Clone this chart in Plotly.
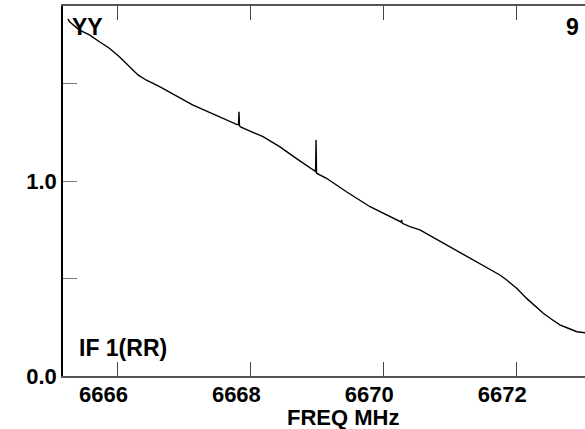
import plotly.graph_objects as go

# Spectrum data (frequency in MHz, amplitude)
freq_mhz = [6665.255, 6665.28, 6665.43, 6665.58, 6665.73, 6665.88, 6666.03, 6666.18,
            6666.31, 6666.43, 6666.635, 6667.13, 6667.54, 6667.80, 6667.822, 6667.829,
            6667.836, 6667.86, 6668.19, 6668.44, 6668.69, 6668.94, 6668.965, 6668.975,
            6668.982, 6668.988, 6668.995, 6669.05, 6669.145, 6669.445, 6669.80, 6670.265,
            6670.275, 6670.285, 6670.40, 6670.55, 6671.0, 6671.252, 6671.50, 6671.652,
            6671.753, 6671.855, 6672.005, 6672.155, 6672.255, 6672.405, 6672.53, 6672.655,
            6672.78, 6672.91, 6673.03, 6673.15]
amplitude = [1.831, 1.817, 1.774, 1.749, 1.714, 1.681, 1.637, 1.586,
             1.544, 1.518, 1.484, 1.390, 1.330, 1.289, 1.290, 1.355,
             1.283, 1.276, 1.227, 1.176, 1.116, 1.060, 1.054, 1.050,
             1.068, 1.210, 1.040, 1.030, 1.014, 0.945, 0.868, 0.790,
             0.800, 0.783, 0.766, 0.749, 0.663, 0.615, 0.569, 0.540,
             0.518, 0.492, 0.450, 0.398, 0.369, 0.322, 0.291, 0.262,
             0.245, 0.227, 0.222, 0.218]

x_ticks = [6666, 6668, 6670, 6672]
x_tick_text = ["6666", "6668", "6670", "6672"]
y_ticks = [0.0, 0.5, 1.0, 1.5]
y_tick_text = ["0.0", "", "1.0", ""]

FONT = "Liberation Sans, Arial, sans-serif"

fig = go.Figure()
fig.add_trace(go.Scatter(x=freq_mhz, y=amplitude, mode="lines",
                         line=dict(color="black", width=1.4), showlegend=False))

L, R, T, B = 63, 0, 6, 53
W, H = 585, 429
pw, ph = W - L - R, H - T - B

def px(xp):
    return (xp - L) / pw

def py(yp):
    return (H - B - yp) / ph

fig.update_layout(
    width=W, height=H,
    margin=dict(l=L, r=R, t=T, b=B),
    paper_bgcolor="white", plot_bgcolor="white",
    xaxis=dict(range=[6665.182, 6673.033], tickvals=x_ticks, ticktext=x_tick_text,
               ticks="inside", ticklen=14, tickcolor="#444", tickwidth=1,
               showline=True, linecolor="#555", linewidth=1.5, mirror="ticks",
               showgrid=False, zeroline=False, ticklabelshift=-14, ticklabelstandoff=-2,
               tickfont=dict(family=FONT, size=22, color="black", weight="bold")),
    yaxis=dict(range=[0, 370 / 195], tickvals=y_ticks, ticktext=y_tick_text,
               ticks="inside", ticklen=14, tickcolor="#777", tickwidth=1,
               showline=True, linecolor="black", linewidth=1.5, mirror=False,
               showgrid=False, zeroline=False,
               tickfont=dict(family=FONT, size=22, color="black", weight="bold")),
)

ann_font = dict(family=FONT, size=23, color="black", weight="bold")
fig.add_annotation(text="YY", xref="paper", yref="paper", x=px(70), y=py(27),
                   xanchor="left", yanchor="middle", showarrow=False, font=ann_font)
fig.add_annotation(text="9", xref="paper", yref="paper", x=px(581), y=py(27),
                   xanchor="right", yanchor="middle", showarrow=False, font=ann_font)
fig.add_annotation(text="IF 1(RR)", xref="paper", yref="paper", x=px(77), y=py(348),
                   xanchor="left", yanchor="middle", showarrow=False, font=ann_font)
fig.add_annotation(text="FREQ MHz", xref="paper", yref="paper", x=px(343), y=py(417),
                   xanchor="center", yanchor="middle", showarrow=False,
                   font=dict(family=FONT, size=22, color="black", weight="bold"))

fig.write_html("out.html", config={"displayModeBar": False},
               post_script="document.body.style.margin='0';document.body.style.overflow='hidden';")
